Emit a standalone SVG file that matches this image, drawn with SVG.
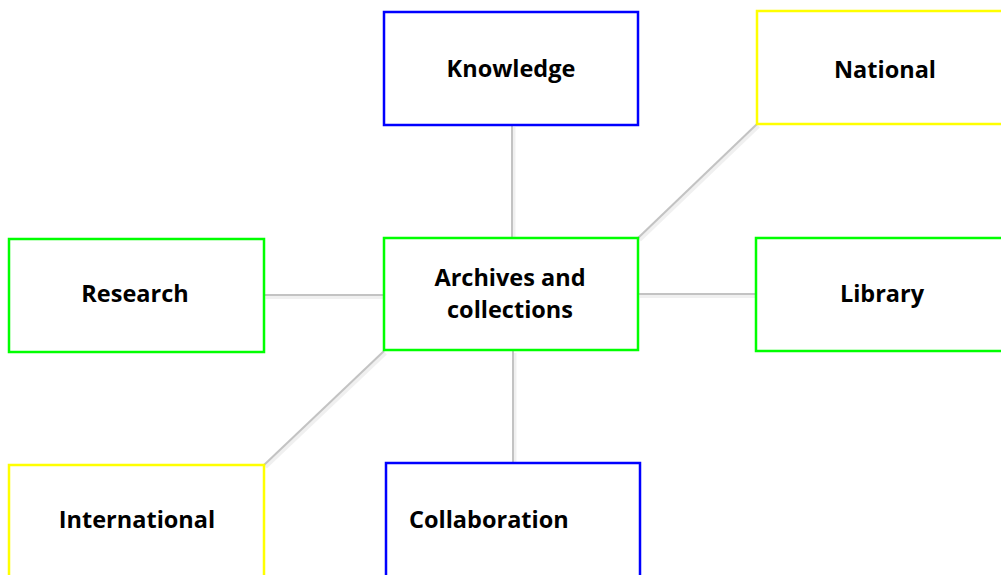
<svg xmlns="http://www.w3.org/2000/svg" width="1001" height="575" viewBox="0 0 1001 575">
  <style>
    .box { fill: #ffffff; stroke-width: 2.5; }
    .blue { stroke: #0000ff; }
    .green { stroke: #00ff00; }
    .yellow { stroke: #ffff00; }
    .lbl { font-family: "Open Sans", "Noto Sans", sans-serif; font-weight: 700; font-size: 23.5px; fill: #000000; text-anchor: middle; }
    .link { stroke: #c3c3c3; stroke-width: 2; fill: none; }
    .shadow { stroke: #000000; stroke-opacity: 0.06; stroke-width: 4; fill: none; }
  </style>
  <rect width="1001" height="575" fill="#ffffff"/>
  <g id="connectors">
    <g transform="translate(1.5,2)">
      <line class="shadow" x1="512" y1="125" x2="512" y2="238"/>
      <line class="shadow" x1="757" y1="124" x2="638" y2="238"/>
      <line class="shadow" x1="264" y1="295" x2="384" y2="295"/>
      <line class="shadow" x1="638" y1="294" x2="756" y2="294"/>
      <line class="shadow" x1="384" y1="351" x2="264" y2="465"/>
      <line class="shadow" x1="513" y1="351" x2="513" y2="463"/>
    </g>
    <line class="link" x1="512" y1="125" x2="512" y2="238"/>
    <line class="link" x1="757" y1="124" x2="638" y2="238"/>
    <line class="link" x1="264" y1="295" x2="384" y2="295"/>
    <line class="link" x1="638" y1="294" x2="756" y2="294"/>
    <line class="link" x1="384" y1="351" x2="264" y2="465"/>
    <line class="link" x1="513" y1="351" x2="513" y2="463"/>
  </g>
  <g id="knowledge">
    <rect class="box blue" x="384" y="12" width="254" height="113"/>
    <text class="lbl" x="511" y="77">Knowledge</text>
  </g>
  <g id="national">
    <rect class="box yellow" x="757" y="11" width="254" height="113"/>
    <text class="lbl" x="885" y="78">National</text>
  </g>
  <g id="research">
    <rect class="box green" x="9" y="239" width="255" height="113"/>
    <text class="lbl" x="135" y="302">Research</text>
  </g>
  <g id="archives">
    <rect class="box green" x="384" y="238" width="254" height="112"/>
    <text class="lbl" x="510" y="286">Archives and</text>
    <text class="lbl" x="510" y="318">collections</text>
  </g>
  <g id="library">
    <rect class="box green" x="756" y="238" width="254" height="113"/>
    <text class="lbl" x="882" y="302">Library</text>
  </g>
  <g id="international">
    <rect class="box yellow" x="9" y="465" width="255" height="120"/>
    <text class="lbl" x="137" y="528">International</text>
  </g>
  <g id="collaboration">
    <rect class="box blue" x="386" y="463" width="254" height="122"/>
    <text class="lbl" x="409" y="528" style="text-anchor: start">Collaboration</text>
  </g>
</svg>
